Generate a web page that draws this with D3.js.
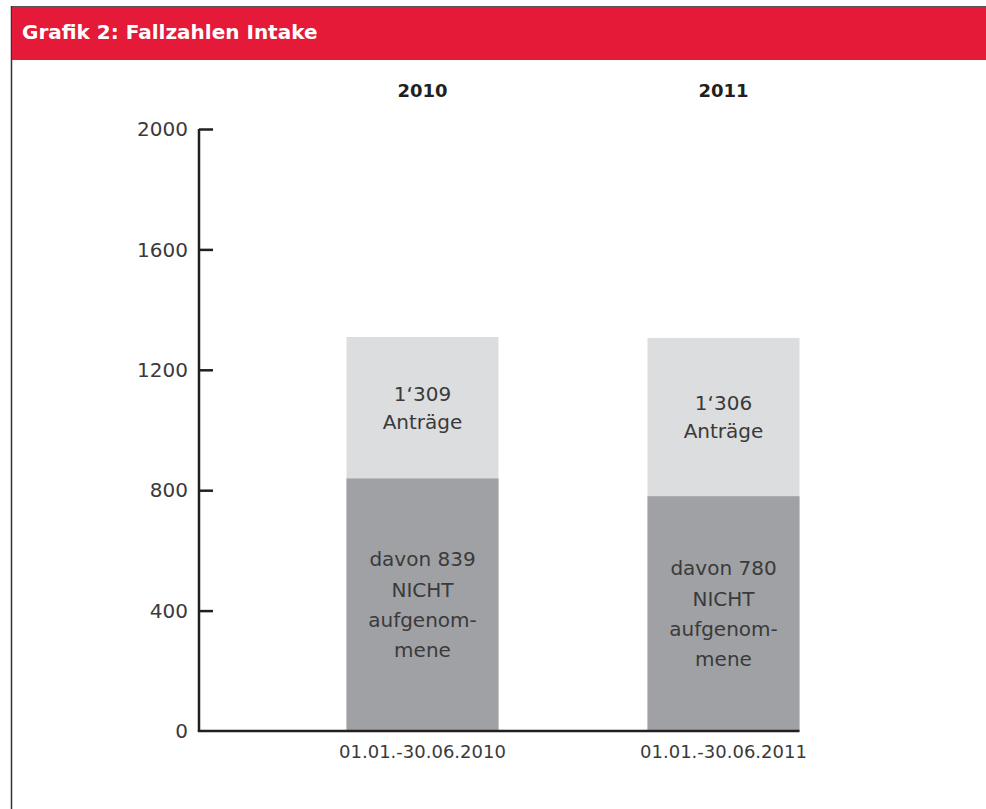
<!DOCTYPE html>
<html><head><meta charset="utf-8">
<script src="https://cdn.jsdelivr.net/npm/d3@7"></script>
<style>body{margin:0;background:#fff;}svg{display:block;}</style>
</head><body>
<script>
const categories = ["01.01.-30.06.2010", "01.01.-30.06.2011"];
const years = ["2010", "2011"];
const totalApplications = [1309, 1306];
const notAdmitted = [839, 780];
const totalLabels = [["1‘309", "Anträge"], ["1‘306", "Anträge"]];
const notAdmittedLabels = [["davon 839", "NICHT", "aufgenom-", "mene"], ["davon 780", "NICHT", "aufgenom-", "mene"]];
const yTicks = [0, 400, 800, 1200, 1600, 2000];
const title = "Grafik 2: Fallzahlen Intake";

const W = 986, H = 809;
const svg = d3.select("body").append("svg").attr("width", W).attr("height", H);
const font = "'DejaVu Sans', Verdana, sans-serif";
const textCol = "#3a3a3a";

// frame
svg.append("line").attr("x1", 11.5).attr("x2", W).attr("y1", 6.5).attr("y2", 6.5).attr("stroke", "#555").attr("stroke-width", 1);
svg.append("line").attr("x1", 11.5).attr("x2", 11.5).attr("y1", 6).attr("y2", H).attr("stroke", "#333").attr("stroke-width", 1.5);
svg.append("rect").attr("x", 12).attr("y", 7).attr("width", W - 12).attr("height", 53).attr("fill", "#e41a38");
svg.append("text").attr("x", 22).attr("y", 39).attr("fill", "#fff").attr("font-family", font)
  .attr("font-weight", "bold").attr("font-size", 20).text(title);

const y = d3.scaleLinear().domain([0, 2000]).range([731, 129]);
const x = d3.scaleBand().domain(categories).range([272, 874]).paddingInner(0.495).paddingOuter(0.2475);
const axisX = 199;

// bars
const g = svg.append("g");
categories.forEach((c, i) => {
  g.append("rect").attr("x", x(c)).attr("width", x.bandwidth())
    .attr("y", y(totalApplications[i])).attr("height", y(0) - y(totalApplications[i])).attr("fill", "#dcdddf");
  g.append("rect").attr("x", x(c)).attr("width", x.bandwidth())
    .attr("y", y(notAdmitted[i])).attr("height", y(0) - y(notAdmitted[i])).attr("fill", "#a0a1a5");
  const cx = x(c) + x.bandwidth() / 2;
  const lc = (y(totalApplications[i]) + y(notAdmitted[i])) / 2;
  const lh = 28;
  totalLabels[i].forEach((t, k) => {
    g.append("text").attr("x", cx).attr("y", lc + (k - (totalLabels[i].length - 1) / 2) * lh)
      .attr("dy", "0.36em").attr("text-anchor", "middle").attr("font-family", font)
      .attr("font-size", 20).attr("fill", textCol).text(t);
  });
  const dc = (y(notAdmitted[i]) + y(0)) / 2;
  const dh = 30.3;
  notAdmittedLabels[i].forEach((t, k) => {
    g.append("text").attr("x", cx).attr("y", dc + (k - (notAdmittedLabels[i].length - 1) / 2) * dh)
      .attr("dy", "0.36em").attr("text-anchor", "middle").attr("font-family", font)
      .attr("font-size", 20).attr("fill", textCol).text(t);
  });
  svg.append("text").attr("x", cx).attr("y", 97).attr("text-anchor", "middle").attr("font-family", font)
    .attr("font-weight", "bold").attr("font-size", 18).attr("fill", "#231f20").text(years[i]);
});

// y axis
const yAxis = d3.axisRight(y).tickValues(yTicks).tickSize(14).tickFormat("");
const ya = svg.append("g").attr("transform", `translate(${axisX},0)`).call(yAxis);
ya.select(".domain").attr("stroke", "#231f20").attr("stroke-width", 2.5).attr("d", `M0,${y(2000)}V${y(0)}`);
ya.selectAll(".tick line").attr("stroke", "#231f20").attr("stroke-width", 2.5);
ya.selectAll(".tick").filter(d => d === 0).select("line").remove();
yTicks.forEach(v => {
  svg.append("text").attr("x", 188).attr("y", y(v)).attr("dy", "0.36em").attr("text-anchor", "end")
    .attr("font-family", font).attr("font-size", 20).attr("fill", textCol).text(v);
});

// x axis baseline
const xEnd = x(categories[categories.length - 1]) + x.bandwidth();
svg.append("line").attr("x1", axisX - 1.25).attr("x2", xEnd).attr("y1", y(0)).attr("y2", y(0))
  .attr("stroke", "#231f20").attr("stroke-width", 2.5);
const xa = svg.append("g").attr("transform", `translate(0,${y(0)})`)
  .call(d3.axisBottom(x).tickSize(0).tickPadding(14));
xa.select(".domain").remove();
xa.selectAll("text").attr("font-family", font).attr("font-size", 18).attr("fill", textCol);
</script>
</body></html>
